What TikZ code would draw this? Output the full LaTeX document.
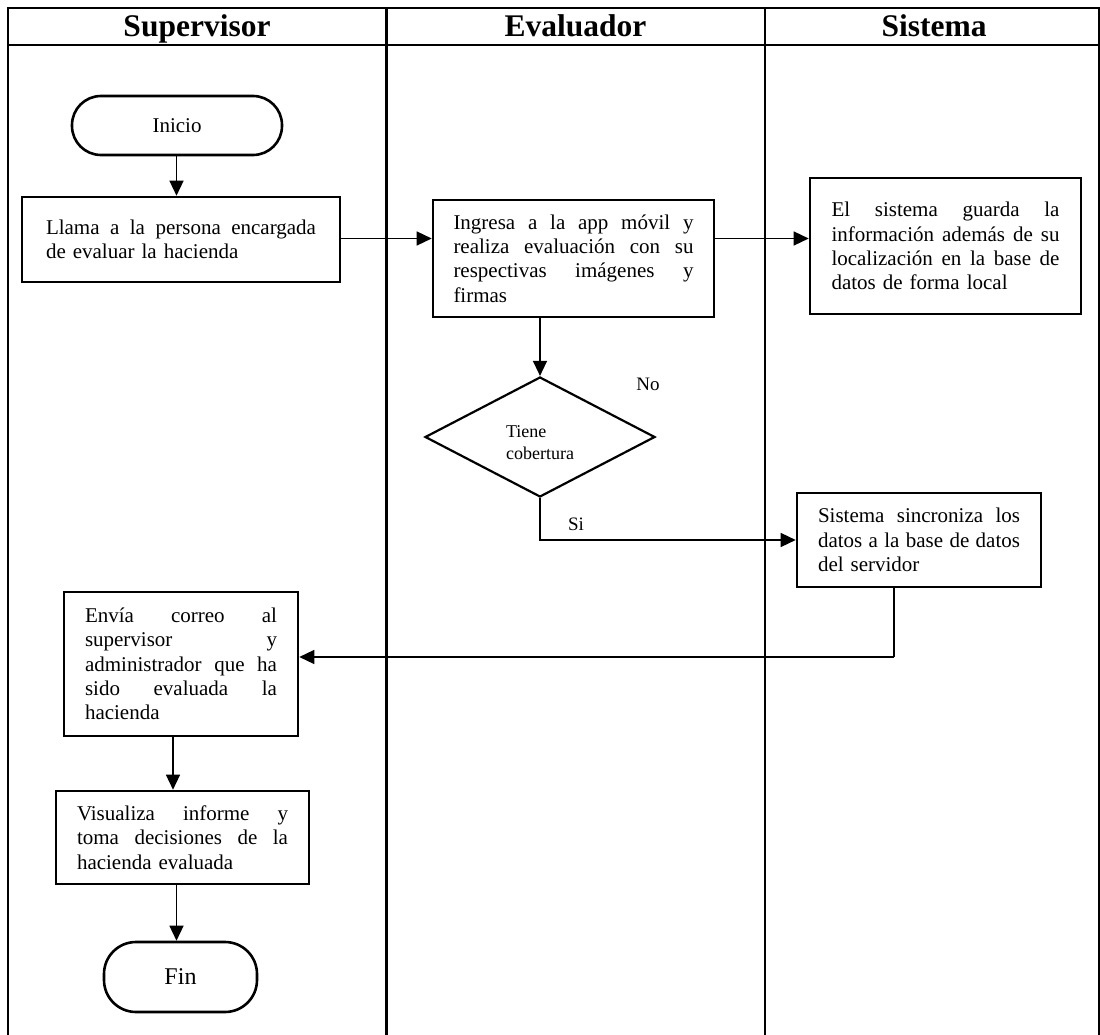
\documentclass[tikz,border=0pt]{standalone}
\usepackage{fontspec}
\setmainfont{Liberation Serif}
\usetikzlibrary{arrows.meta,shapes.geometric}

% one fully justified line inside a fixed-width node
\newcommand\jl[1]{\leavevmode\hbox to\hsize{\spaceskip=0.25em plus 1fil\relax #1}}

\begin{document}
\begin{tikzpicture}[x=1pt,y=-1pt,
  lane/.style={line width=2.2pt},
  procbox/.style={draw,line width=2.6pt,align=left,inner sep=0pt,
    font=\fontsize{21}{24.3}\selectfont},
  termbox/.style={draw,line width=2.6pt,inner sep=0pt},
  decbox/.style={draw,diamond,line width=2.2pt,inner sep=0pt,align=left,
    minimum width=230pt,minimum height=120pt,aspect=1.9,
    font=\fontsize{18}{22}\selectfont},
  flow/.style={line width=1.4pt,-{Triangle[length=15pt,width=14pt]}},
  link/.style={line width=1.4pt},
  head/.style={anchor=base,inner sep=0pt,font=\fontsize{31.5}{34}\selectfont\bfseries},
  lbl/.style={inner sep=0pt,font=\fontsize{19}{22}\selectfont}]

\useasboundingbox (0,0) rectangle (1100,1035);

% swimlane frame
\draw[lane] (8,1045) -- (8,8) -- (1099,8) -- (1099,1045);
\draw[lane] (8,45) -- (1099,45);
\draw[lane] (386.5,8) -- (386.5,1045);
\draw[lane] (765,8) -- (765,1045);

\node[head] (hsup) at (197,37) {Supervisor};
\node[head] (heva) at (575.5,37) {Evaluador};
\node[head] (hsis) at (934,37) {Sistema};

% Supervisor lane
\node[termbox,rounded corners=29pt,minimum width=210pt,minimum height=59pt,
  font=\fontsize{21}{24}\selectfont] (inicio) at (177,125.5) {Inicio};

\node[procbox,text width=270pt,minimum width=318pt,minimum height=85pt] (llama) at (181,239.5)
  {\jl{Llama a la persona encargada}\\de evaluar la hacienda};

\node[procbox,text width=192pt,minimum width=234pt,minimum height=144pt] (envia) at (181,664)
  {\jl{Envía correo al}\\\jl{supervisor y}\\\jl{administrador que ha}\\\jl{sido evaluada la}\\hacienda};

\node[procbox,text width=211pt,minimum width=253pt,minimum height=93pt] (visual) at (182.5,837.5)
  {\jl{Visualiza informe y}\\\jl{toma decisiones de la}\\hacienda evaluada};

\node[termbox,rounded corners=32pt,minimum width=153pt,minimum height=70pt,
  font=\fontsize{24}{28}\selectfont] (fin) at (180.5,977) {Fin};

% Evaluador lane
\node[procbox,text width=240pt,minimum width=281pt,minimum height=117pt] (ingresa) at (573.5,258.5)
  {\jl{Ingresa a la app móvil y}\\\jl{realiza evaluación con su}\\\jl{respectivas imágenes y}\\firmas};

\node[decbox] (cob) at (540,437) {\rule{0pt}{23pt}Tiene\\cobertura};
\node[lbl] (no) at (648,384) {No};
\node[lbl] (si) at (576,524) {Si};

% Sistema lane
\node[procbox,text width=228pt,minimum width=271pt,minimum height=136pt] (guarda) at (945.5,246)
  {\jl{El sistema guarda la}\\\jl{información además de su}\\\jl{localización en la base de}\\datos de forma local};

\node[procbox,text width=202pt,minimum width=244pt,minimum height=94pt] (sinc) at (919,540)
  {\jl{Sistema sincroniza los}\\\jl{datos a la base de datos}\\del servidor};

% connector bend points
\coordinate (rowa) at (0,238.5);
\coordinate (drop) at (894,657);
\coordinate (xa) at (173,0);
\coordinate (xb) at (176.5,0);

% connectors
\draw[flow] (inicio.south -| xb) -- (llama.north -| xb);
\draw[flow] (llama.east |- rowa) -- (ingresa.west |- rowa);
\draw[flow] (ingresa.east |- rowa) -- (guarda.west |- rowa);
\draw[flow] (cob.north |- ingresa.south) -- (cob.north);
\draw[flow] (cob.south) |- (sinc.west);
\draw[link] (drop |- sinc.south) -- (drop);
\draw[flow] (drop) -- (drop -| envia.east);
\draw[flow] (envia.south -| xa) -- (visual.north -| xa);
\draw[flow] (visual.south -| xb) -- (fin.north -| xb);

\end{tikzpicture}
\end{document}
